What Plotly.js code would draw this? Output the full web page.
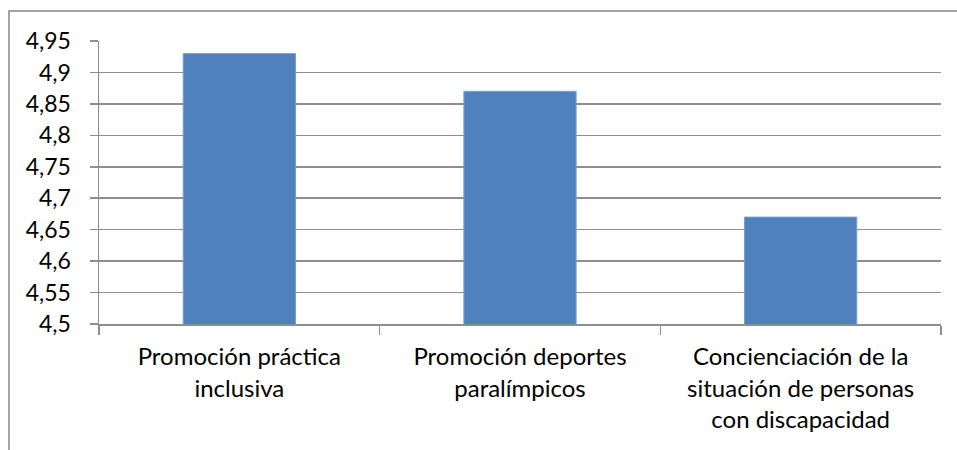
<!DOCTYPE html>
<html>
<head>
<meta charset="utf-8">
<script src="https://cdn.plot.ly/plotly-3.0.1.min.js"></script>
<style>html,body{margin:0;padding:0;background:#fff;}#chart{width:957px;height:450px;}</style>
</head>
<body>
<div id="chart"></div>
<script>
const categories = [
  "Promoción práctica<br>inclusiva",
  "Promoción deportes<br>paralímpicos",
  "Concienciación de la<br>situación de personas<br>con discapacidad"
];
const values = [4.93, 4.87, 4.67];
const yTickVals = [4.5, 4.55, 4.6, 4.65, 4.7, 4.75, 4.8, 4.85, 4.9, 4.95];
const yTickText = ["4,5", "4,55", "4,6", "4,65", "4,7", "4,75", "4,8", "4,85", "4,9", "4,95"];

const fontFam = "Lato, 'Open Sans', sans-serif";
Plotly.newPlot('chart', [{
  type: 'bar',
  x: categories,
  y: values,
  marker: {color: '#4F81BD', line: {color: '#7BA0CD', width: 1}},
  hoverinfo: 'none'
}], {
  width: 957, height: 450,
  margin: {l: 99, r: 16, t: 41, b: 126},
  paper_bgcolor: '#fff', plot_bgcolor: '#fff',
  bargap: 0.6,
  showlegend: false,
  font: {family: fontFam, size: 24, color: '#000'},
  xaxis: {
    type: 'category',
    showgrid: false,
    showline: true, linecolor: '#8E8E8E', linewidth: 1.5,
    ticks: 'outside', tickson: 'boundaries', ticklen: 9, tickcolor: '#8E8E8E', tickwidth: 1.5,
    tickfont: {family: fontFam, size: 24, color: '#000'},
    ticklabelstandoff: 11,
    fixedrange: true
  },
  yaxis: {
    range: [4.5, 4.95],
    tickvals: yTickVals, ticktext: yTickText,
    showgrid: true, gridcolor: '#8E8E8E', gridwidth: 1.5,
    zeroline: false,
    showline: true, linecolor: '#8E8E8E', linewidth: 1.5,
    ticks: 'outside', ticklen: 8, tickcolor: '#8E8E8E', tickwidth: 1.5,
    tickfont: {family: fontFam, size: 23, color: '#000'},
    ticklabelstandoff: 14,
    fixedrange: true
  },
  shapes: [{
    type: 'path', xref: 'paper', yref: 'paper',
    path: 'M -0.1069 -0.5 L -0.1069 1.1060 L 1.2 1.1060',
    line: {color: '#878787', width: 1.5}
  }]
}, {displayModeBar: false, staticPlot: true});
</script>
</body>
</html>
